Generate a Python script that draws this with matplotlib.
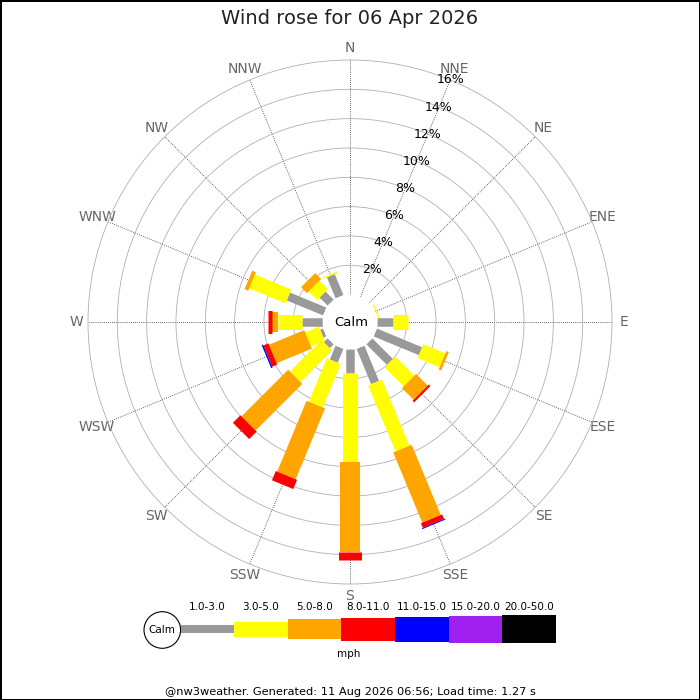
import numpy as np
import matplotlib
matplotlib.use("Agg")
import matplotlib.pyplot as plt
from matplotlib.patches import Circle

# wind rose data: % of time per direction, split by speed class (mph)
directions = ['N', 'NNE', 'NE', 'ENE', 'E', 'ESE', 'SE', 'SSE',
              'S', 'SSW', 'SW', 'WSW', 'W', 'WNW', 'NW', 'NNW']
speed_classes = ['1.0-3.0', '3.0-5.0', '5.0-8.0', '8.0-11.0',
                 '11.0-15.0', '15.0-20.0', '20.0-50.0']
class_colors = ['#999999', '#ffff00', '#ffa500', '#ff0000',
                '#0000ff', '#a020f0', '#000000']
class_widths_px = [8.5, 15, 20, 23, 25, 27, 28]

pct_1_3 = [0, 0, 0, 0.0, 1.09, 3.34, 1.98, 2.60, 1.61, 1.02, 0.37, 0.22, 1.43, 2.68, 0.78, 1.55]
pct_3_5 = [0, 0, 0, 0.1, 1.02, 1.62, 1.84, 4.88, 6.05, 3.21, 3.05, 1.01, 1.59, 2.68, 0.82, 0.10]
pct_5_8 = [0, 0, 0, 0, 0, 0.18, 1.13, 5.18, 6.14, 5.23, 4.50, 2.60, 0.45, 0.27, 0.57, 0]
pct_8_11 = [0, 0, 0, 0, 0, 0, 0.15, 0.34, 0.57, 0.68, 0.72, 0.37, 0.23, 0, 0, 0]
pct_11_15 = [0, 0, 0, 0, 0, 0, 0, 0.07, 0, 0, 0, 0.10, 0, 0, 0, 0]
pct_15_20 = [0] * 16
pct_20_50 = [0] * 16

ring_values = [2, 4, 6, 8, 10, 12, 14, 16]
title = 'Wind rose for 06 Apr 2026'
footer = '@nw3weather. Generated: 11 Aug 2026 06:56; Load time: 1.27 s'

W, H = 700, 700
cx, cy = 350, 322
r_outer = 262
r_calm = 27.4
px_per_pct = (r_outer - r_calm) / ring_values[-1]
pt = 72 / 100  # px -> points at dpi 100

fig = plt.figure(figsize=(7, 7), dpi=100, facecolor='white',
                 edgecolor='black', linewidth=1)

# overlay axes in pixel coordinates for legend / captions
lax = fig.add_axes([0, 0, 1, 1])
lax.set_xlim(0, W)
lax.set_ylim(H, 0)
lax.axis('off')

ax = fig.add_axes([(cx - r_outer) / W, (H - cy - r_outer) / H,
                   2 * r_outer / W, 2 * r_outer / H], projection='polar')
ax.set_theta_zero_location('N')
ax.set_theta_direction(-1)
ax.set_rorigin(-r_calm / px_per_pct)
ax.set_ylim(0, ring_values[-1])
for sp in ax.spines.values():
    sp.set_visible(False)
    sp.set_edgecolor('none')  # polar draw() turns the inner spine back on
ax.set_facecolor('none')

theta = np.deg2rad(np.arange(16) * 22.5)
ax.set_xticks(theta)
ax.set_xticklabels(directions, color='#666666', fontsize=10)
ax.tick_params(axis='x', pad=1.5, length=0)
ax.tick_params(axis='y', length=0)
ax.set_yticks(ring_values)
ax.set_yticklabels([])
ax.xaxis.grid(True, color='#333333', linestyle=(0, (1, 1.5)), linewidth=0.6)
ax.yaxis.grid(True, color='#b0b0b0', linestyle='-', linewidth=0.6)
for gl in ax.yaxis.get_gridlines():
    gl.set_clip_on(False)

series = [pct_1_3, pct_3_5, pct_5_8, pct_8_11, pct_11_15, pct_15_20, pct_20_50]
base = np.zeros(16)
for vals, col, wpx in zip(series, class_colors, class_widths_px):
    vals = np.array(vals, dtype=float)
    for i in range(16):
        if vals[i] > 0:
            ax.plot([theta[i], theta[i]], [base[i], base[i] + vals[i]],
                    color=col, lw=wpx * pt, solid_capstyle='butt', zorder=3)
    base += vals

for rv in ring_values:
    ax.text(np.deg2rad(22.5), rv, f'{rv}%', ha='center', va='center',
            fontsize=9, color='black', zorder=5)

lax.text(cx + 1, cy, 'Calm', ha='center', va='center', fontsize=9.5)

fig.text(0.5, 1 - 18 / H, title, ha='center', va='center', fontsize=14,
         color='#222222')

# legend
leg_y = 629
leg_x0 = 180.5
seg = 53.6
lax.add_patch(Circle((162.3, 630), 18.3, facecolor='white',
                     edgecolor='black', lw=0.8))
lax.text(162.3, 630, 'Calm', ha='center', va='center', fontsize=7.5)
for k, (lab, col, wpx) in enumerate(zip(speed_classes, class_colors, class_widths_px)):
    left = leg_x0 + k * seg
    lax.barh(leg_y, seg, left=left, height=wpx, color=col, edgecolor='none')
    lax.text(left + seg / 2, 607, lab, ha='center', va='center', fontsize=7.5)
lax.text(349, 654, 'mph', ha='center', va='center', fontsize=7.5)

fig.text(0.5, 1 - 692 / H, footer, ha='center', va='center', fontsize=8.2)

fig.savefig('out.png', dpi=100)
